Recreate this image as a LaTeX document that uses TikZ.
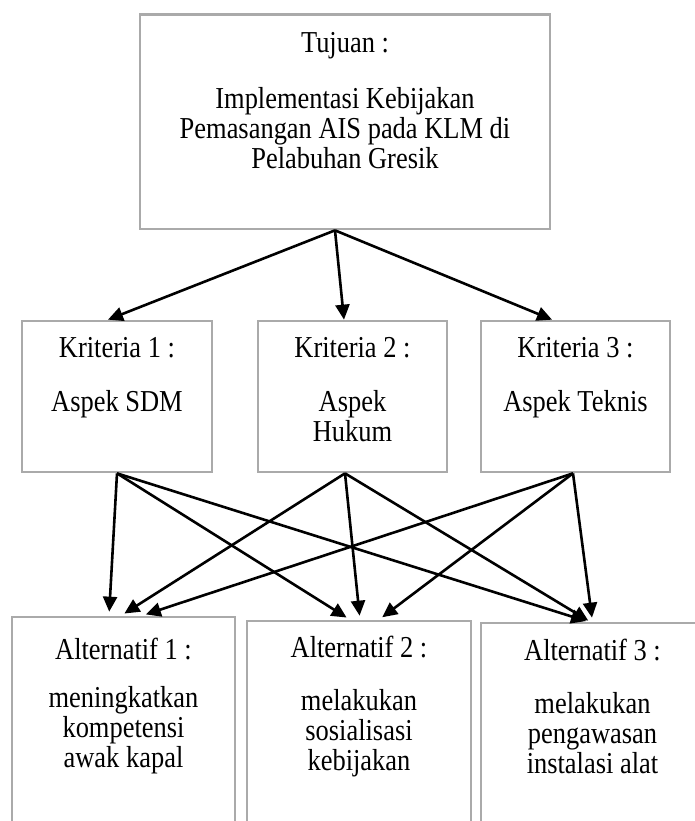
\documentclass[tikz,border=0pt]{standalone}
\usepackage{fontspec}
\setmainfont{Liberation Serif}[FakeStretch=0.87]
\usetikzlibrary{arrows.meta}
\definecolor{boxgray}{RGB}{170,170,170}

\begin{document}
\begin{tikzpicture}[x=0.5pt,y=-0.5pt,
  box/.style={draw=boxgray,line width=1.35pt,rectangle,inner sep=0pt},
  txt/.style={align=center,anchor=north,inner sep=0pt,font=\fontsize{15.2}{15}\selectfont},
  link/.style={-{Triangle[length=7.5pt,width=7pt]},line width=1.3pt}]
                \clip[use as bounding box] (0,0) rectangle (695,821);
                \node [box,minimum width=205pt,minimum height=107.25pt] (tujuan) at (345,121.75) {};
                \node [txt] (tujuantxt) at (345,31)
                  {\strut Tujuan :\\[12pt]Implementasi Kebijakan\\Pemasangan AIS pada KLM di\\Pelabuhan Gresik};
                \node [box,minimum width=95pt,minimum height=75.5pt] (k1) at (117,396.5) {};
                \node [box,minimum width=94.5pt,minimum height=75.5pt] (k2) at (352.5,396.5) {};
                \node [box,minimum width=94.5pt,minimum height=75.5pt] (k3) at (575.5,396.5) {};
                \node [txt] (k1txt) at (117,336) {\strut Kriteria 1 :\\[11pt]Aspek SDM};
                \node [txt] (k2txt) at (352.5,336) {\strut Kriteria 2 :\\[11pt]Aspek\\Hukum};
                \node [txt] (k3txt) at (575.5,336) {\strut Kriteria 3 :\\[11pt]Aspek Teknis};
                \node [box,minimum width=111.5pt,minimum height=141.5pt] (a1) at (123.5,758.5) {};
                \node [box,minimum width=112pt,minimum height=139.5pt] (a2) at (359,760.5) {};
                \node [box,minimum width=111.5pt,minimum height=138.5pt] (a3) at (592.5,761.5) {};
                \node [txt] (a1txt) at (123.5,638) {\strut Alternatif 1 :\\[8pt]meningkatkan\\kompetensi\\awak kapal};
                \node [txt] (a2txt) at (359,636) {\strut Alternatif 2 :\\[10.5pt]melakukan\\sosialisasi\\kebijakan};
                \node [txt] (a3txt) at (592.5,639) {\strut Alternatif 3 :\\[10.5pt]melakukan\\pengawasan\\instalasi alat};
                \draw [link] ([xshift=-5pt]tujuan.south) -- ([xshift=-4.5pt]k1.north);
                \draw [link] ([xshift=-5pt]tujuan.south) -- ([xshift=-4.25pt]k2.north);
                \draw [link] ([xshift=-5pt]tujuan.south) -- ([xshift=-11.75pt]k3.north);
                \draw [link,shorten >=2pt] (k1.south) -- ([xshift=-7.25pt]a1.north);
                \draw [link,shorten >=2pt] (k1.south) -- ([xshift=-4.5pt]a2.north);
                \draw [link,shorten >=1pt] (k1.south) -- ([xshift=-2.25pt]a3.north);
                \draw [link,shorten >=2pt] ([xshift=-3.75pt]k2.south) -- ([xshift=-1.25pt]a1.north);
                \draw [link,shorten >=2pt] ([xshift=-3.75pt]k2.south) -- ([xshift=0.5pt]a2.north);
                \draw [link,shorten >=1pt] ([xshift=-3.75pt]k2.south) -- ([xshift=-1.25pt]a3.north);
                \draw [link,shorten >=2pt] ([xshift=-1.25pt]k3.south) -- ([xshift=9.25pt]a1.north);
                \draw [link,shorten >=2pt] ([xshift=-1.25pt]k3.south) -- ([xshift=10pt]a2.north);
                \draw [link,shorten >=2pt] ([xshift=-1.25pt]k3.south) -- (a3.north);
\end{tikzpicture}
\end{document}
